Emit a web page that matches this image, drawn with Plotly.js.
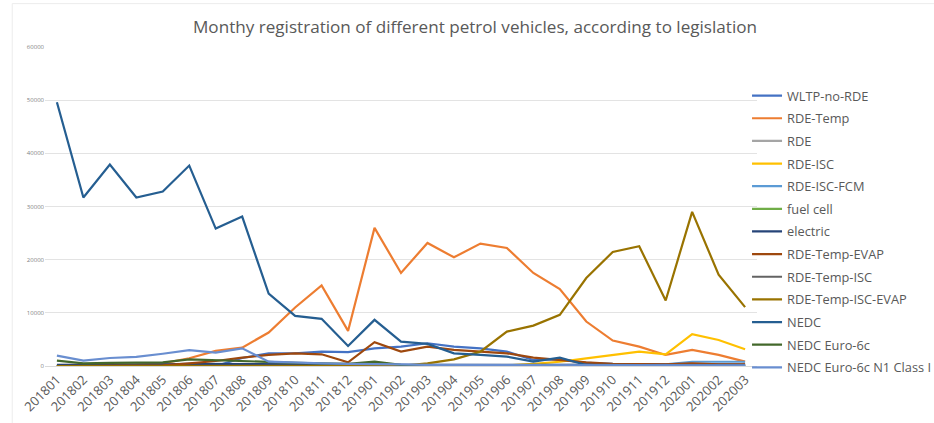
<!DOCTYPE html>
<html>
<head>
<meta charset="utf-8">
<script src="https://cdn.plot.ly/plotly-3.0.1.min.js"></script>
<style>
  html, body { margin: 0; padding: 0; background: #ffffff; overflow: hidden; }
  #wrap { width: 934px; height: 423px; overflow: hidden; }
  #chart { width: 960px; height: 423px; }
</style>
</head>
<body>
<div id="wrap"><div id="chart"></div></div>
<script>
const months = ["201801","201802","201803","201804","201805","201806","201807","201808","201809","201810","201811","201812",
                "201901","201902","201903","201904","201905","201906","201907","201908","201909","201910","201911","201912",
                "202001","202002","202003"];

const seriesNames = ["WLTP-no-RDE","RDE-Temp","RDE","RDE-ISC","RDE-ISC-FCM","fuel cell","electric",
                     "RDE-Temp-EVAP","RDE-Temp-ISC","RDE-Temp-ISC-EVAP","NEDC","NEDC Euro-6c","NEDC Euro-6c N1 Class I"];

const wltpNoRde      = [0,0,0,0,0,0,0,1500,2400,2400,2700,2600,3300,3650,4280,3650,3330,2700,1130,1260,570,400,300,300,300,250,200];
const rdeTemp        = [50,100,150,250,500,1450,2830,3460,6290,11000,15150,6600,25980,17500,23150,20440,23020,22200,17500,14470,8360,4780,3650,2080,3020,2080,820];
const rde            = [0,0,0,0,0,0,0,0,0,0,0,0,0,0,0,0,0,0,0,0,0,0,0,0,0,0,0];
const rdeIsc         = [0,0,0,0,0,0,0,0,0,0,0,0,0,0,0,0,0,100,400,800,1450,2080,2700,2200,5980,4900,3150];
const rdeIscFcm      = [0,0,0,0,0,0,0,0,0,0,0,0,0,0,0,0,0,0,0,0,0,0,0,300,800,800,800];
const fuelCell       = [0,0,0,0,0,0,0,0,0,0,0,0,0,0,0,0,0,0,0,0,0,0,0,0,0,0,0];
const electric       = [200,200,250,250,300,400,400,400,300,300,300,250,300,200,200,200,200,200,200,200,200,200,200,200,250,250,250];
const rdeTempEvap    = [0,0,0,0,100,500,940,1570,2080,2390,2200,700,4470,2700,3650,3020,2700,2390,1570,1130,700,400,400,300,500,300,300];
const rdeTempIsc     = [0,0,0,0,0,0,0,0,0,0,0,0,600,0,0,0,0,0,0,0,0,0,0,0,0,0,0];
const rdeTempIscEvap = [0,0,0,0,0,0,0,0,0,0,0,0,0,50,500,1260,2700,6470,7600,9620,16550,21450,22520,12330,29000,17170,11070];
const nedc           = [49600,31700,37900,31700,32800,37700,25850,28100,13600,9430,8870,3770,8680,4590,4150,2390,2080,1760,820,1570,200,150,150,100,100,100,100];
const nedcEuro6c     = [1000,500,600,650,700,1260,1100,820,700,600,500,400,820,200,100,50,50,50,50,0,0,0,0,0,0,0,0];
const nedcEuro6cN1   = [1950,1000,1500,1700,2300,3000,2500,3330,820,600,500,400,400,300,200,200,150,150,100,100,100,100,100,100,100,100,100];

const seriesValues = [wltpNoRde, rdeTemp, rde, rdeIsc, rdeIscFcm, fuelCell, electric,
                      rdeTempEvap, rdeTempIsc, rdeTempIscEvap, nedc, nedcEuro6c, nedcEuro6cN1];
const colors = ["#4472C4","#ED7D31","#A5A5A5","#FFC000","#5B9BD5","#70AD47","#264478",
                "#9E480E","#636363","#997300","#255E91","#43682B","#698ED0"];

const traces = seriesNames.map((name, i) => ({
  type: "scatter",
  mode: "lines",
  name: name,
  x: months,
  y: seriesValues[i],
  line: { color: colors[i], width: 2.2 },
  legendgroup: "g" + i,
  hoverinfo: "x+y+name"
}));

const layout = {
  width: 960,
  height: 423,
  paper_bgcolor: "#ffffff",
  plot_bgcolor: "#ffffff",
  margin: { l: 45, r: 203, t: 47, b: 57 },
  font: { family: "Open Sans, Liberation Sans, sans-serif", color: "#595959" },
  title: {
    text: "Monthy registration of different petrol vehicles, according to legislation",
    font: { family: "Open Sans, sans-serif", size: 17.1, color: "#595959" },
    x: 0.4948, xanchor: "center", xref: "container",
    y: 0.935, yanchor: "middle", yref: "container"
  },
  xaxis: {
    type: "category",
    tickangle: -45,
    tickfont: { size: 13, color: "#595959" },
    showgrid: false,
    showline: true,
    linecolor: "#D9D9D9",
    ticks: "",
    range: [-0.45, 26.45],
    automargin: false
  },
  yaxis: {
    range: [0, 60000],
    tickvals: [0,10000,20000,30000,40000,50000,60000],
    tickformat: "d",
    tickfont: { size: 6, color: "#7f7f7f" },
    showgrid: true,
    gridcolor: "#E3E3E3",
    gridwidth: 1,
    zeroline: false,
    ticks: "",
    automargin: false
  },
  legend: {
    x: 0.986, xanchor: "left", xref: "paper",
    y: 0.894, yanchor: "top",
    font: { size: 12.8, color: "#595959" },
    tracegroupgap: 3,
    itemwidth: 30,
    bgcolor: "rgba(0,0,0,0)",
    traceorder: "grouped"
  },
  shapes: [
    { type: "line", xref: "paper", yref: "paper", x0: -0.046, x1: 1.3, y0: 1.136, y1: 1.136,
      line: { color: "#ECECEC", width: 1 } },
    { type: "line", xref: "paper", yref: "paper", x0: -0.046, x1: -0.046, y0: -0.2, y1: 1.136,
      line: { color: "#ECECEC", width: 1 } }
  ],
  showlegend: true
};

Plotly.newPlot("chart", traces, layout, { staticPlot: true, displayModeBar: false });
</script>
</body>
</html>
